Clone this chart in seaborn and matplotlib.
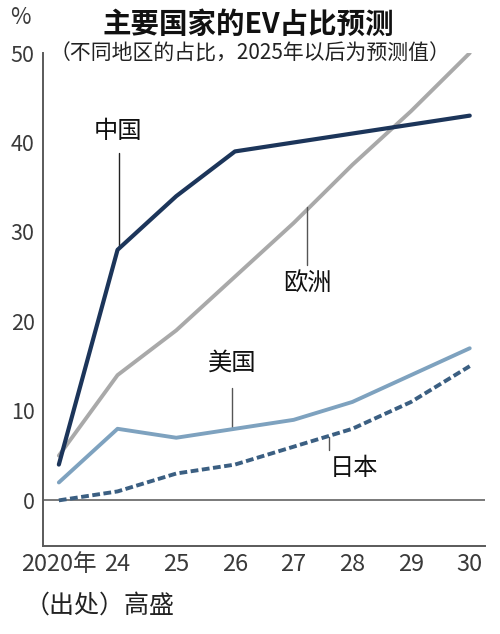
import numpy as np
import pandas as pd
import matplotlib
matplotlib.use('Agg')
import matplotlib.pyplot as plt
import seaborn as sns

# data (share of EV sales, %)
years = ['2020年', '24', '25', '26', '27', '28', '29', '30']
china = [4, 28, 34, 39, 40, 41, 42, 43]
europe = [5, 14, 19, 25, 31, 37.5, 43.5, 50]
usa = [2, 8, 7, 8, 9, 11, 14, 17]
japan = [0, 1, 3, 4, 6, 8, 11, 15]
y_ticks = [0, 10, 20, 30, 40, 50]

sns.set_theme(style='white')
plt.rcParams['font.family'] = ['Noto Sans CJK SC', 'DejaVu Sans']
narrow = ['Liberation Sans Narrow', 'Noto Sans CJK SC', 'DejaVu Sans']

pos = np.arange(len(years))
df = pd.DataFrame({'pos': pos, '中国': china, '欧洲': europe, '美国': usa, '日本': japan})

fig = plt.figure(figsize=(5, 6.34), dpi=100)
ax = fig.add_axes([0.086, 0.1388, 0.884, 0.7776])

axis_col = '#5a5a5a'
ax.axhline(0, color='#6e6e6e', lw=1.3, zorder=1)

sns.lineplot(data=df, x='pos', y='欧洲', ax=ax, color='#a9a9a9', lw=2.8, zorder=2)
sns.lineplot(data=df, x='pos', y='美国', ax=ax, color='#7ea2bf', lw=2.8, zorder=3)
sns.lineplot(data=df, x='pos', y='日本', ax=ax, color='#3b5f82', lw=2.8,
             linestyle=(0, (2.0, 0.9)), zorder=4)
sns.lineplot(data=df, x='pos', y='中国', ax=ax, color='#1c355a', lw=3.0, zorder=5)

ax.set_xlim(-0.27, 7.26)
ax.set_ylim(-5.1, 50)
ax.set_xticks(pos)
ax.set_xticklabels(years, family=narrow, fontsize=17, color='#3a3a3a')
ax.set_yticks(y_ticks)
ax.set_yticklabels([str(v) for v in y_ticks], family=narrow, fontsize=15.5, color='#3a3a3a')
ax.set_xlabel('')
ax.set_ylabel('')

for side in ['top', 'right']:
    ax.spines[side].set_visible(False)
for side in ['left', 'bottom']:
    ax.spines[side].set_color(axis_col)
    ax.spines[side].set_linewidth(1.4)

ax.tick_params(axis='both', direction='in', length=7, width=1.1, color=axis_col)
ax.tick_params(axis='x', pad=5)
ax.tick_params(axis='y', pad=6)

# annotation labels with leader lines
lab = dict(fontsize=17.5, color='#111111', ha='center', va='center')
ax.text(1.0, 41.3, '中国', **lab)
ax.plot([1.02, 1.02], [38.8, 28.2], color='#222222', lw=1.0)
ax.text(4.24, 24.3, '欧洲', **lab)
ax.plot([4.22, 4.22], [32.8, 26.3], color='#555555', lw=1.0)
ax.text(2.95, 15.4, '美国', **lab)
ax.plot([2.95, 2.95], [12.6, 8.1], color='#555555', lw=1.0)
ax.text(5.03, 3.6, '日本', **lab)
ax.plot([4.6, 4.6], [7.1, 5.6], color='#555555', lw=1.0)

fig.text(0.04, 0.972, '%', fontsize=16, family=narrow, color='#3a3a3a', ha='center', va='center')
fig.text(0.497, 0.961, '主要国家的EV占比预测', fontsize=20.5, fontweight='bold',
         color='#111111', ha='center', va='center')
fig.text(0.5, 0.916, '（不同地区的占比，2025年以后为预测值）', fontsize=15,
         color='#222222', ha='center', va='center')
fig.text(0.05, 0.045, '（出处）高盛', fontsize=18, color='#222222', ha='left', va='center')

fig.savefig('out.png', dpi=100, facecolor='white')
